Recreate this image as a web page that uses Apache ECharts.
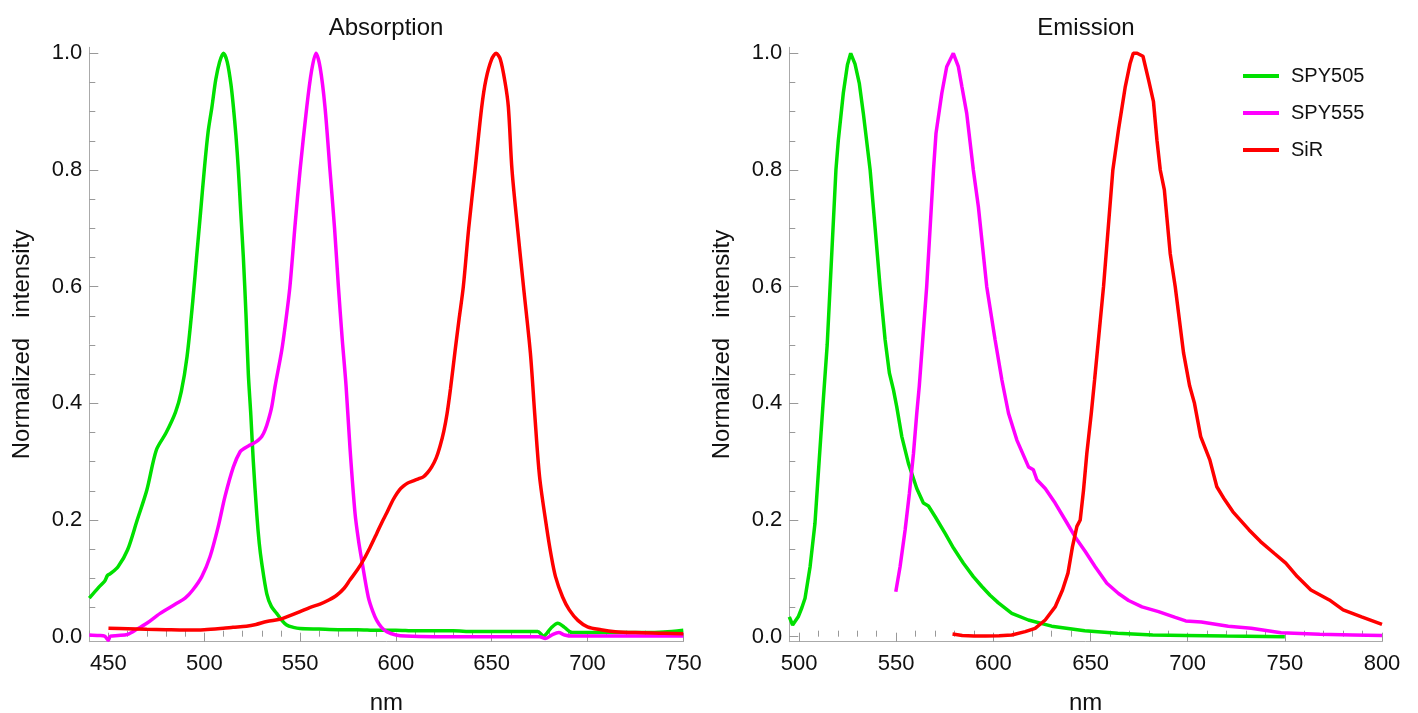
<!DOCTYPE html>
<html>
<head>
<meta charset="utf-8">
<script src="https://cdn.jsdelivr.net/npm/echarts@6/dist/echarts.min.js"></script>
<style>
html,body{margin:0;padding:0;background:#fff;}
#c{width:1418px;height:713px;}
</style>
</head>
<body>
<div id="c"></div>
<script>
// ---------- DATA ----------
const seriesNames = ['SPY505', 'SPY555', 'SiR'];

const absSPY505 = [[440,0.066],[445,0.085],[448,0.095],[449.5,0.105],[451,0.108],[455,0.12],[460,0.149],[465,0.20],[470,0.251],[475,0.32],[480,0.349],[485,0.385],[488,0.42],[491,0.48],[494,0.575],[496,0.651],[498,0.725],[500,0.8],[502,0.865],[504,0.908],[506,0.955],[508,0.985],[510,1.0],[512,0.985],[514,0.945],[515.2,0.908],[516.5,0.86],[517.8,0.8],[519,0.73],[520.4,0.65],[521.8,0.55],[523,0.45],[524.3,0.38],[525.6,0.3],[527.4,0.21],[528.7,0.16],[530,0.126],[532.6,0.074],[535,0.052],[537.8,0.04],[540,0.03],[543,0.02],[546.5,0.016],[550,0.014],[560,0.013],[570,0.012],[580,0.012],[590,0.011],[600,0.011],[610,0.01],[620,0.01],[630,0.01],[640,0.009],[650,0.009],[660,0.009],[670,0.009],[674,0.009],[677,0.001],[681,0.015],[684.5,0.023],[688,0.016],[692,0.007],[700,0.007],[710,0.007],[720,0.007],[730,0.007],[740,0.008],[750,0.011]];

const absSPY555 = [[440,0.003],[445,0.002],[448,0.001],[450,-0.006],[451,0.001],[455,0.002],[460,0.004],[465,0.013],[470,0.023],[477,0.04],[485,0.056],[490,0.066],[494,0.08],[498.7,0.103],[503,0.137],[507.3,0.189],[510.8,0.24],[515.2,0.291],[518.7,0.317],[521,0.323],[523,0.327],[526,0.332],[528.2,0.337],[530,0.343],[531.7,0.354],[533.5,0.372],[535.2,0.394],[537,0.43],[540.4,0.49],[542.5,0.54],[544.7,0.6],[547.5,0.71],[550,0.8],[553.5,0.908],[556,0.97],[558.3,1.0],[560.5,0.975],[563,0.908],[565.6,0.8],[568,0.7],[570,0.6],[572,0.51],[574,0.43],[576,0.326],[578.7,0.211],[580.5,0.165],[582.2,0.131],[585.6,0.068],[588,0.043],[590,0.028],[592.5,0.016],[595.2,0.0086],[600,0.003],[605,0.001],[620,0.0],[640,0.0],[660,0.0],[675,0.0],[678,-0.003],[682,0.004],[685,0.007],[688,0.003],[692,0.001],[700,0.001],[720,0.001],[750,0.001]];

const absSiR = [[450,0.0144],[460,0.0135],[470,0.0126],[480,0.012],[490,0.0115],[500,0.012],[510,0.0144],[515,0.016],[522,0.018],[527,0.021],[532.6,0.026],[539.5,0.03],[543,0.034],[550,0.043],[555,0.05],[560.4,0.056],[565,0.063],[569.1,0.071],[573,0.083],[576,0.097],[580,0.115],[583,0.131],[586.5,0.153],[590,0.177],[593,0.198],[595.2,0.212],[597.5,0.228],[599.5,0.24],[602,0.252],[603.9,0.258],[606,0.263],[609.1,0.267],[612,0.271],[614.3,0.274],[616.5,0.281],[618.7,0.291],[621,0.306],[623,0.326],[625,0.352],[626.7,0.382],[628.5,0.425],[630.9,0.49],[633,0.545],[635.2,0.6],[638,0.7],[641.3,0.8],[644.8,0.908],[647,0.955],[650,0.99],[652.3,1.0],[654.5,0.99],[657,0.95],[658.7,0.908],[660.6,0.8],[663.5,0.7],[666.6,0.6],[670.2,0.486],[672.5,0.38],[675,0.274],[678.6,0.189],[681,0.14],[683.3,0.103],[687,0.068],[690.5,0.046],[695,0.028],[700,0.017],[707,0.012],[714.5,0.0086],[725,0.007],[740,0.006],[750,0.005]];

const emSPY505 = [[495,0.034],[496.7,0.02],[499.6,0.034],[501.5,0.05],[503.1,0.066],[505.7,0.12],[508.2,0.194],[510.4,0.303],[512.5,0.406],[514.5,0.5],[516,0.6],[519,0.8],[520.2,0.85],[522.8,0.932],[524.9,0.98],[526.6,1.0],[528.8,0.982],[531,0.949],[533.1,0.897],[536.6,0.8],[539.1,0.703],[541.7,0.6],[544.3,0.509],[546.5,0.452],[548.6,0.423],[550.3,0.394],[552.9,0.343],[556.3,0.297],[560.6,0.254],[564,0.229],[566.6,0.224],[570,0.206],[575.2,0.177],[579.5,0.152],[584.6,0.126],[589.7,0.103],[594.1,0.086],[598.3,0.071],[602.6,0.058],[609.5,0.04],[618,0.0286],[630,0.018],[647,0.0103],[664,0.0057],[682,0.0029],[699,0.002],[720,0.001],[750,0.0]];

const emSPY555 = [[549.8,0.077],[552,0.12],[554.6,0.183],[556.8,0.246],[558.9,0.314],[560.6,0.383],[561.9,0.43],[565.7,0.6],[569.2,0.8],[570.5,0.863],[573.5,0.932],[576,0.977],[579.4,1.0],[582,0.977],[583.8,0.943],[586.3,0.897],[589.7,0.8],[592.3,0.737],[596.6,0.6],[600.9,0.509],[604.4,0.44],[607.8,0.383],[612.1,0.337],[618.1,0.291],[620.6,0.286],[622.4,0.269],[626.7,0.254],[631.8,0.229],[637,0.2],[642.1,0.171],[647.3,0.146],[652.4,0.12],[658.4,0.0915],[664.4,0.074],[669.6,0.062],[676.5,0.051],[685,0.043],[693.6,0.033],[699,0.027],[707,0.025],[720.9,0.018],[732.7,0.0144],[748,0.0069],[768,0.004],[785,0.003],[800,0.002]];

const emSiR = [[579,0.0046],[584,0.002],[590,0.0013],[596,0.001],[603,0.0015],[609.5,0.003],[616.4,0.0086],[621.5,0.0144],[626.7,0.0286],[631.8,0.051],[635.6,0.08],[638.4,0.109],[640.7,0.154],[643,0.189],[644.7,0.2],[646.4,0.251],[648.1,0.314],[650.4,0.383],[652.1,0.44],[656.7,0.6],[661.5,0.8],[664.4,0.869],[667.9,0.943],[670.4,0.983],[672,1.0],[674,1.0],[677,0.995],[679.9,0.954],[682.4,0.917],[684.2,0.851],[685.9,0.8],[688,0.766],[691,0.657],[693.6,0.6],[697.9,0.486],[701,0.43],[703.5,0.4],[706.7,0.343],[711.4,0.303],[715,0.257],[719,0.235],[723.3,0.214],[731.6,0.183],[737.5,0.163],[744.5,0.143],[750.5,0.126],[756.4,0.103],[763.4,0.08],[772.9,0.063],[780,0.046],[789.5,0.034],[800,0.021]];

const absXTicks = [450, 500, 550, 600, 650, 700, 750];
const emXTicks = [500, 550, 600, 650, 700, 750, 800];
const yTicks = [0, 0.2, 0.4, 0.6, 0.8, 1.0];
const absTitle = 'Absorption';
const emTitle = 'Emission';
const xName = 'nm';
const yName = 'Normalized   intensity';

// ---------- STYLE / LAYOUT ----------
const FONT = '"Liberation Sans", Arial, Helvetica, sans-serif';
const TXT = '#111';
const colors = ['#00e000', '#ff00ff', '#ff0000'];
const Y_MIN = -0.0086, Y_MAX = 1.0103;

function minorList(min, max, step, majors) {
  const out = [];
  const start = Math.ceil(min / step - 1e-9) * step;
  for (let v = start; v <= max + 1e-9; v += step) {
    const r = Math.round(v * 1000) / 1000;
    if (!majors.some(m => Math.abs(m - r) < 1e-6)) out.push(r);
  }
  return out;
}

function xPair(gi, min, max, majors) {
  const minors = minorList(min, max, 10, majors);
  return [
    {
      type: 'value', gridIndex: gi, position: 'bottom', min: min, max: max,
      name: xName, nameLocation: 'middle', nameGap: 50,
      nameTextStyle: { fontSize: 24, color: TXT, fontFamily: FONT },
      axisLine: { show: true, onZero: false, lineStyle: { color: '#aaaaaa', width: 1 } },
      axisTick: { show: true, inside: true, length: 9, lineStyle: { color: '#999999' }, customValues: majors },
      axisLabel: { show: true, customValues: majors, fontSize: 22, color: TXT, fontFamily: FONT, margin: 11 },
      splitLine: { show: false }
    },
    {
      type: 'value', gridIndex: gi, position: 'bottom', min: min, max: max,
      axisLine: { show: false },
      axisTick: { show: true, inside: true, length: 6, lineStyle: { color: '#999999' }, customValues: minors },
      axisLabel: { show: false },
      splitLine: { show: false }
    }
  ];
}

function yPair(gi) {
  const minors = minorList(0, 1, 0.05, yTicks);
  return [
    {
      type: 'value', gridIndex: gi, position: 'left', min: Y_MIN, max: Y_MAX,
      name: yName, nameLocation: 'middle', nameGap: 55, nameRotate: 90,
      nameTextStyle: { fontSize: 24, color: TXT, fontFamily: FONT },
      axisLine: { show: true, onZero: false, lineStyle: { color: '#aaaaaa', width: 1 } },
      axisTick: { show: true, inside: true, length: 9, lineStyle: { color: '#999999' }, customValues: yTicks },
      axisLabel: { show: true, customValues: yTicks, fontSize: 22, color: TXT, fontFamily: FONT, margin: 7,
                   formatter: v => Number(v).toFixed(1) },
      splitLine: { show: false }
    },
    {
      type: 'value', gridIndex: gi, position: 'left', min: Y_MIN, max: Y_MAX,
      axisLine: { show: false },
      axisTick: { show: true, inside: true, length: 6, lineStyle: { color: '#999999' }, customValues: minors },
      axisLabel: { show: false },
      splitLine: { show: false }
    }
  ];
}

function line(name, data, xi, yi, color, smooth) {
  return {
    type: 'line', name: name, data: data, xAxisIndex: xi, yAxisIndex: yi,
    showSymbol: false, symbol: 'none', smooth: smooth, clip: true,
    lineStyle: { color: color, width: 3.5 }, itemStyle: { color: color },
    emphasis: { disabled: true }, animation: false
  };
}

const chart = echarts.init(document.getElementById('c'), null, { renderer: 'canvas' });
chart.setOption({
  backgroundColor: '#ffffff',
  animation: false,
  textStyle: { fontFamily: FONT },
  title: [
    { text: absTitle, left: 386, top: 16, textAlign: 'center', textVerticalAlign: 'top', padding: 0,
      textStyle: { fontSize: 24, fontWeight: 'normal', color: TXT, fontFamily: FONT } },
    { text: emTitle, left: 1086, top: 16, textAlign: 'center', textVerticalAlign: 'top', padding: 0,
      textStyle: { fontSize: 24, fontWeight: 'normal', color: TXT, fontFamily: FONT } }
  ],
  legend: {
    data: seriesNames, orient: 'vertical', left: 1243, top: 66,
    icon: 'rect', itemWidth: 36, itemHeight: 4, itemGap: 17, padding: 0,
    textStyle: { fontSize: 20, color: TXT, fontFamily: FONT, padding: [0, 0, 0, 7] },
    selectedMode: false
  },
  grid: [
    { left: 89.3, right: 1418 - 683.3, top: 47.3, bottom: 713 - 641.7, containLabel: false, outerBoundsMode: 'none' },
    { left: 789.3, right: 1418 - 1382, top: 47.3, bottom: 713 - 641.7, containLabel: false, outerBoundsMode: 'none' }
  ],
  xAxis: [].concat(xPair(0, 440, 750, absXTicks), xPair(1, 495, 800, emXTicks)),
  yAxis: [].concat(yPair(0), yPair(1)),
  series: [
    line(seriesNames[0], absSPY505, 0, 0, colors[0], 0.3),
    line(seriesNames[1], absSPY555, 0, 0, colors[1], 0.3),
    line(seriesNames[2], absSiR, 0, 0, colors[2], 0.3),
    line(seriesNames[0], emSPY505, 2, 2, colors[0], false),
    line(seriesNames[1], emSPY555, 2, 2, colors[1], false),
    line(seriesNames[2], emSiR, 2, 2, colors[2], false)
  ]
});
</script>
</body>
</html>
